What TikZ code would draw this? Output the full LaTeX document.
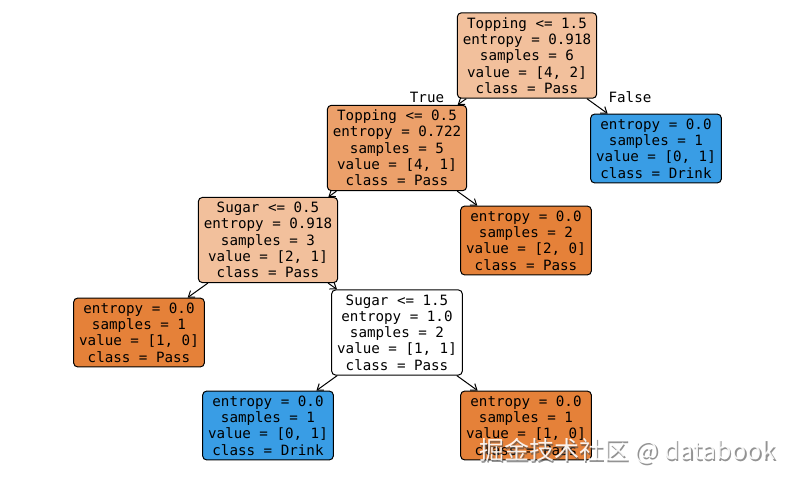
\documentclass[tikz,border=0pt]{standalone}
\usepackage{fontspec}
\setmonofont{DejaVu Sans Mono}
\newfontfamily\cjkfont{Noto Sans CJK SC}
\usetikzlibrary{arrows.meta}
\definecolor{passfull}{HTML}{E58139}
\definecolor{passmid}{HTML}{ECA06A}
\definecolor{passlight}{HTML}{F2C09C}
\definecolor{drink}{HTML}{399DE5}
\begin{document}
\begin{tikzpicture}[x=1pt,y=-1pt,
  treenode/.style={draw=black, line width=1pt, rounded corners=4pt, align=center,
    inner xsep=5.5pt, inner ysep=4.6pt,
    font=\ttfamily\fontsize{14.2}{16.3}\selectfont},
  edge/.style={-{Straight Barb[length=5.5pt,width=8pt]}, line width=1pt},
  elabel/.style={font=\ttfamily\fontsize{14.2}{16.3}\selectfont}]
\useasboundingbox (0,0) rectangle (794,482);
\fill[white] (0,0) rectangle (794,482);
\node[treenode, fill=passlight] (root) at (527,55.5) {Topping <= 1.5\\entropy = 0.918\\samples = 6\\value = [4, 2]\\class = Pass};
\node[treenode, fill=passmid] (n1) at (397,148) {Topping <= 0.5\\entropy = 0.722\\samples = 5\\value = [4, 1]\\class = Pass};
\node[treenode, fill=drink] (n2) at (656,148.5) {entropy = 0.0\\samples = 1\\value = [0, 1]\\class = Drink};
\node[treenode, fill=passlight] (n3) at (268,240) {Sugar <= 0.5\\entropy = 0.918\\samples = 3\\value = [2, 1]\\class = Pass};
\node[treenode, fill=passfull] (n4) at (526,240.5) {entropy = 0.0\\samples = 2\\value = [2, 0]\\class = Pass};
\node[treenode, fill=passfull] (n5) at (139,332.5) {entropy = 0.0\\samples = 1\\value = [1, 0]\\class = Pass};
\node[treenode, fill=white] (n6) at (397,332.5) {Sugar <= 1.5\\entropy = 1.0\\samples = 2\\value = [1, 1]\\class = Pass};
\node[treenode, fill=drink] (n7) at (268,425.5) {entropy = 0.0\\samples = 1\\value = [0, 1]\\class = Drink};
\node[treenode, fill=passfull] (n8) at (526,425.5) {entropy = 0.0\\samples = 1\\value = [1, 0]\\class = Pass};
\draw[edge] (root) -- (n1);
\draw[edge] (root) -- (n2);
\draw[edge] (n1) -- (n3);
\draw[edge] (n1) -- (n4);
\draw[edge] (n3) -- (n5);
\draw[edge] (n3) -- (n6);
\draw[edge] (n6) -- (n7);
\draw[edge] (n6) -- (n8);
\node[elabel] (ltrue) at (427,97) {True};
\node[elabel] (lfalse) at (630,97) {False};
\node[font=\cjkfont\fontsize{25}{28}\selectfont, text=gray!60!black, opacity=0.6] (wms) at (629,453) {掘金技术社区 @ databook};
\node[font=\cjkfont\fontsize{25}{28}\selectfont, text=white, opacity=0.9] (wm) at (627.5,451.5) {掘金技术社区 @ databook};
\end{tikzpicture}
\end{document}
